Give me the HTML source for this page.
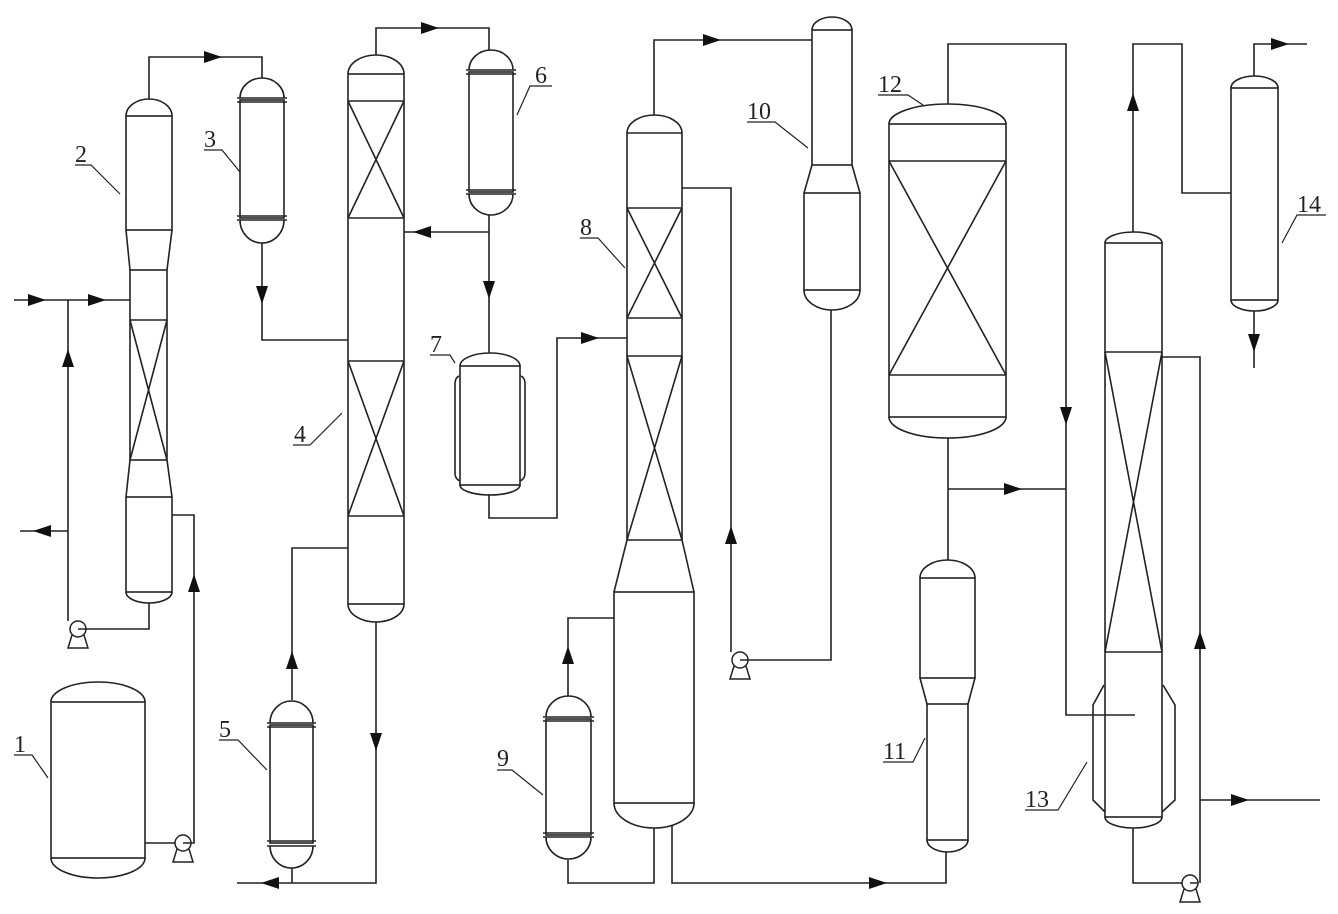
<!DOCTYPE html>
<html><head><meta charset="utf-8"><style>
html,body{margin:0;padding:0;background:#fff}
svg{display:block}
text{font-family:"Liberation Serif",serif;font-size:24px;fill:#222}
</style></head><body>
<svg width="1338" height="914" viewBox="0 0 1338 914" xmlns="http://www.w3.org/2000/svg">
<defs>
<polygon id="ar" points="-9,-6 9,0 -9,6" fill="#111"/>
<g id="pump" fill="none" stroke="#222" stroke-width="1.5"><circle cx="0" cy="0" r="8" fill="#fff"/><path d="M-6,6 L-10,19 L10,19 L6,6"/><line x1="0" y1="0" x2="8" y2="0"/></g>
</defs>
<g fill="none" stroke="#222" stroke-width="1.6">
<!-- 1 tank -->
<rect x="51" y="702" width="94" height="156"/>
<path d="M51,702 A47,20 0 0 1 145,702"/>
<path d="M51,858 A47,20 0 0 0 145,858"/>
<path d="M145,843 H178"/>
<path d="M186,843 H194 V515 H172"/>
<!-- 2 column -->
<path d="M149,99 V57 H262 V78"/>
<rect x="126" y="116" width="46" height="114"/>
<path d="M126,116 A23,17 0 0 1 172,116"/>
<path d="M126,230 L130,270 M172,230 L167,270"/>
<rect x="130" y="270" width="37" height="190"/>
<line x1="130" y1="320" x2="167" y2="320"/>
<path d="M130,320 L167,460 M167,320 L130,460"/>
<path d="M130,460 L126,497 M167,460 L172,497"/>
<rect x="126" y="497" width="46" height="95"/>
<path d="M126,592 A23,11 0 0 0 172,592"/>
<path d="M14,300 H130"/>
<path d="M68,300 V621"/>
<path d="M68,531 H20"/>
<path d="M86,629 H149 V603"/>
<!-- 3 -->
<rect x="240" y="100" width="44" height="118"/>
<path d="M237,98 H287 M237,102 H287 M237,216 H287 M237,220 H287"/>
<path d="M240,98 A22,20 0 0 1 284,98"/>
<path d="M240,220 A22,23 0 0 0 284,220"/>
<path d="M262,243 V340 H348"/>
<!-- 4 -->
<rect x="348" y="74" width="56" height="530"/>
<path d="M348,74 A28,19 0 0 1 404,74"/>
<path d="M348,604 A28,18 0 0 0 404,604"/>
<path d="M348,101 H404 M348,218 H404 M348,101 L404,218 M404,101 L348,218"/>
<path d="M348,361 H404 M348,516 H404 M348,361 L404,516 M404,361 L348,516"/>
<path d="M376,55 V28 H489 V50"/>
<path d="M489,215 V353"/>
<path d="M489,232 H404"/>
<path d="M348,548 H292 V700"/>
<path d="M376,622 V883 H237"/>
<path d="M292,868 V883"/>
<!-- 5 -->
<rect x="270" y="725" width="43" height="118"/>
<path d="M267,723 H316 M267,727 H316 M267,841 H316 M267,846 H316"/>
<path d="M270,723 A21.5,22 0 0 1 313,723"/>
<path d="M270,846 A21.5,22 0 0 0 313,846"/>
<!-- 6 -->
<rect x="469" y="72" width="44" height="120"/>
<path d="M466,70 H516 M466,74 H516 M466,190 H516 M466,194 H516"/>
<path d="M469,70 A22,20 0 0 1 513,70"/>
<path d="M469,194 A22,21 0 0 0 513,194"/>
<!-- 7 -->
<rect x="460" y="366" width="60" height="119"/>
<path d="M460,366 A30,13 0 0 1 520,366"/>
<path d="M460,485 A30,10 0 0 0 520,485"/>
<path d="M459,376 Q455,378 455,384 V473 Q455,479 460,481"/>
<path d="M521,376 Q525,378 525,384 V473 Q525,479 520,481"/>
<path d="M489,494 V518 H557 V338 H627"/>
<!-- 8 -->
<path d="M627,133 H682 M627,133 V540 M682,133 V540"/>
<path d="M627,133 A27.5,18 0 0 1 682,133"/>
<path d="M627,208 H682 M627,318 H682 M627,208 L682,318 M682,208 L627,318"/>
<path d="M627,356 H682 M627,540 H682 M627,356 L682,540 M682,356 L627,540"/>
<path d="M627,540 L614,592 M682,540 L694,592"/>
<rect x="614" y="592" width="80" height="211"/>
<path d="M614,803 A40,25 0 0 0 694,803"/>
<path d="M654,115 V40 H812"/>
<path d="M682,188 H731 V652"/>
<path d="M748,660 H831 V310"/>
<path d="M654,828 V883 H568 V860"/>
<path d="M672,826 V883 H946 V852"/>
<path d="M568,696 V618 H614"/>
<!-- 9 -->
<rect x="546" y="719" width="45" height="116"/>
<path d="M543,717 H594 M543,721 H594 M543,833 H594 M543,837 H594"/>
<path d="M546,717 A22.5,21 0 0 1 591,717"/>
<path d="M546,837 A22.5,22 0 0 0 591,837"/>
<!-- 10 -->
<rect x="812" y="30" width="40" height="135"/>
<path d="M812,30 A20,13 0 0 1 852,30"/>
<path d="M812,165 L804,193 M852,165 L860,193"/>
<rect x="804" y="193" width="56" height="97"/>
<path d="M804,290 A28,20 0 0 0 860,290"/>
<!-- 12 -->
<rect x="889" y="124" width="117" height="293"/>
<path d="M889,124 A58.5,20 0 0 1 1006,124"/>
<path d="M889,417 A58.5,21 0 0 0 1006,417"/>
<path d="M889,161 H1006 M889,375 H1006 M889,161 L1006,375 M1006,161 L889,375"/>
<path d="M948,104 V44 H1066 V715 H1135"/>
<path d="M948,438 V560"/>
<path d="M948,489 H1066"/>
<!-- 11 -->
<rect x="920" y="578" width="55" height="100"/>
<path d="M920,578 A27.5,18 0 0 1 975,578"/>
<path d="M920,678 L927,704 M975,678 L968,704"/>
<rect x="927" y="704" width="41" height="136"/>
<path d="M927,840 A20.5,12 0 0 0 968,840"/>
<!-- 13 -->
<rect x="1105" y="243" width="57" height="574"/>
<path d="M1105,243 A28.5,11 0 0 1 1162,243"/>
<path d="M1105,817 A28.5,11 0 0 0 1162,817"/>
<path d="M1105,352 H1162 M1105,652 H1162 M1105,352 L1162,652 M1162,352 L1105,652"/>
<path d="M1104,685 L1093,705 V800 L1105,812"/>
<path d="M1163,685 L1175,705 V800 L1162,812"/>
<path d="M1133,232 V44 H1182 V193 H1231"/>
<path d="M1162,357 H1200 V883"/>
<path d="M1200,800 H1320"/>
<path d="M1133,828 V883 H1182"/>
<!-- 14 -->
<rect x="1231" y="88" width="47" height="212"/>
<path d="M1231,88 A23.5,12 0 0 1 1278,88"/>
<path d="M1231,300 A23.5,11 0 0 0 1278,300"/>
<path d="M1254,76 V44 H1307"/>
<path d="M1254,311 V368"/>
<!-- leaders -->
<g stroke-width="1.2">
<path d="M14,755 H32 L48,778"/>
<path d="M75,165 H91 L120,194"/>
<path d="M204,150 H222 L240,172"/>
<path d="M293,445 H310 L342,413"/>
<path d="M219,740 H238 L267,770"/>
<path d="M552,86 H530 L517,115"/>
<path d="M430,355 H450 L455,363"/>
<path d="M580,238 H598 L625,268"/>
<path d="M497,770 H512 L543,795"/>
<path d="M747,122 H775 L808,148"/>
<path d="M878,95 H908 L923,105"/>
<path d="M883,762 H913 L925,738"/>
<path d="M1025,810 H1058 L1087,762"/>
<path d="M1326,215 H1297 L1282,243"/>
</g>
</g>
<!-- pumps -->
<use href="#pump" x="183" y="843"/>
<use href="#pump" x="78" y="629"/>
<use href="#pump" x="740" y="660"/>
<use href="#pump" x="1190" y="883"/>
<!-- arrows -->
<use href="#ar" transform="translate(37,300)"/>
<use href="#ar" transform="translate(97,300)"/>
<use href="#ar" transform="translate(68,358) rotate(-90)"/>
<use href="#ar" transform="translate(42,531) rotate(180)"/>
<use href="#ar" transform="translate(194,583) rotate(-90)"/>
<use href="#ar" transform="translate(213,57)"/>
<use href="#ar" transform="translate(262,295) rotate(90)"/>
<use href="#ar" transform="translate(430,28)"/>
<use href="#ar" transform="translate(422,232) rotate(180)"/>
<use href="#ar" transform="translate(489,290) rotate(90)"/>
<use href="#ar" transform="translate(292,660) rotate(-90)"/>
<use href="#ar" transform="translate(376,742) rotate(90)"/>
<use href="#ar" transform="translate(270,883) rotate(180)"/>
<use href="#ar" transform="translate(590,338)"/>
<use href="#ar" transform="translate(712,40)"/>
<use href="#ar" transform="translate(731,535) rotate(-90)"/>
<use href="#ar" transform="translate(568,655) rotate(-90)"/>
<use href="#ar" transform="translate(878,883)"/>
<use href="#ar" transform="translate(1066,416) rotate(90)"/>
<use href="#ar" transform="translate(1013,489)"/>
<use href="#ar" transform="translate(1133,102) rotate(-90)"/>
<use href="#ar" transform="translate(1200,640) rotate(-90)"/>
<use href="#ar" transform="translate(1240,800)"/>
<use href="#ar" transform="translate(1280,44)"/>
<use href="#ar" transform="translate(1254,343) rotate(90)"/>
<!-- labels -->
<text x="14" y="752">1</text>
<text x="75" y="162">2</text>
<text x="204" y="147">3</text>
<text x="294" y="442">4</text>
<text x="219" y="737">5</text>
<text x="535" y="83">6</text>
<text x="430" y="352">7</text>
<text x="580" y="235">8</text>
<text x="497" y="766">9</text>
<text x="747" y="119">10</text>
<text x="878" y="92">12</text>
<text x="883" y="759">11</text>
<text x="1025" y="807">13</text>
<text x="1297" y="212">14</text>
</svg>
</body></html>
